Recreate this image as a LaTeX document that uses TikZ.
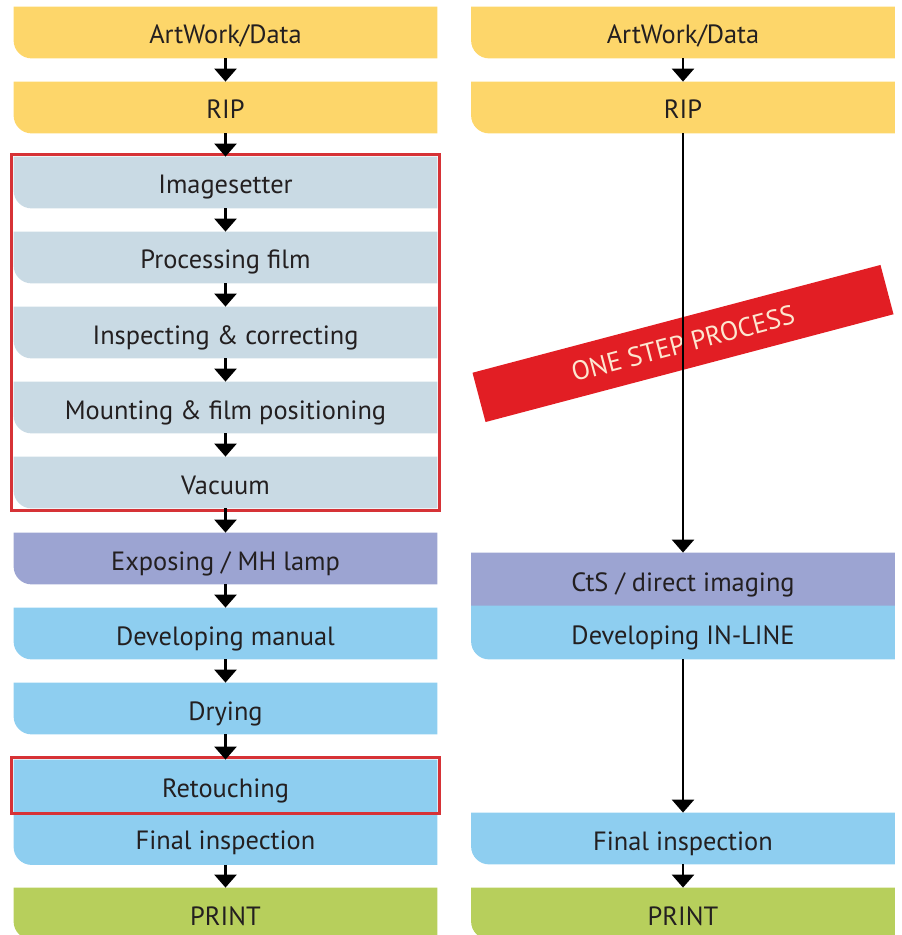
\documentclass[tikz,border=0pt]{standalone}
\usepackage{fontspec}
\setmainfont{PT Sans}
\usetikzlibrary{arrows.meta,backgrounds,fit}

\definecolor{artcol}{RGB}{253,214,106}
\definecolor{filmcol}{RGB}{201,218,228}
\definecolor{expcol}{RGB}{156,164,210}
\definecolor{devcol}{RGB}{142,206,240}
\definecolor{printcol}{RGB}{183,207,92}
\definecolor{bannercol}{RGB}{226,30,36}
\definecolor{framecol}{RGB}{214,50,54}
\definecolor{textcol}{RGB}{35,31,32}
\definecolor{creamcol}{RGB}{253,230,208}

\begin{document}
\begin{tikzpicture}[x=0.5pt, y=-0.5pt,
    stepbox/.style={minimum width=211.5pt, minimum height=25.5pt, inner sep=0pt,
      text height=11.5pt, text depth=0pt,
      text=textcol, font=\fontsize{13.2}{15}\selectfont},
    flow/.style={line width=1.3pt, -{Triangle[width=11pt,length=6.5pt]}},
    redframe/.style={draw=framecol, line width=1.5pt, inner sep=1pt},
    banner/.style={fill=bannercol, text=creamcol, minimum width=211pt,
      minimum height=25.5pt, font=\fontsize{13.4}{16}\selectfont}]
   \useasboundingbox (0,0) rectangle (901,935);
   % left column: conventional plate making
   \node[stepbox] (artL) at (225.5,32.5)  {ArtWork/Data};
   \node[stepbox] (ripL) at (225.5,107.5) {RIP};
   \node[stepbox] (img)  at (225.5,182.5) {Imagesetter};
   \node[stepbox] (proc) at (225.5,257.5) {Processing film};
   \node[stepbox] (insp) at (225.5,332.5) {Inspecting \& correcting};
   \node[stepbox] (mount) at (225.5,407.5) {Mounting \& film positioning};
   \node[stepbox] (vac)  at (225.5,482.5) {Vacuum};
   \node[stepbox] (expo) at (225.5,558.5) {Exposing / MH lamp};
   \node[stepbox] (devL) at (225.5,633.5) {Developing manual};
   \node[stepbox] (dry)  at (225.5,708.5) {Drying};
   \node[stepbox] (ret)  at (225.5,785.5) {Retouching};
   \node[stepbox, minimum height=26.5pt] (finL) at (225.5,838) {Final inspection};
   \node[stepbox] (prL)  at (225.5,913.5) {PRINT};
   % right column: direct imaging
   \node[stepbox] (artR) at (683,32.5)  {ArtWork/Data};
   \node[stepbox] (ripR) at (683,107.5) {RIP};
   \node[stepbox, minimum height=26.5pt] (cts)  at (683,579.5) {CtS / direct imaging};
   \node[stepbox, minimum height=26.5pt] (devR) at (683,632.5) {Developing IN-LINE};
   \node[stepbox] (finR) at (683,838.5) {Final inspection};
   \node[stepbox] (prR)  at (683,913.5) {PRINT};

   \begin{scope}[on background layer]
     \foreach \n/\c/\r in {artL/artcol/9, ripL/artcol/9, img/filmcol/9, proc/filmcol/9,
         insp/filmcol/9, mount/filmcol/9, vac/filmcol/9, expo/expcol/9, devL/devcol/9,
         dry/devcol/9, ret/devcol/0.01, finL/devcol/9, prL/printcol/9,
         artR/artcol/9, ripR/artcol/9, cts/expcol/0.01, devR/devcol/9,
         finR/devcol/9, prR/printcol/9}
       \fill[\c] (\n.north west) -- (\n.north east) -- (\n.south east)
         -- ([xshift=\r pt]\n.south west) arc[start angle=270, end angle=180, radius=\r pt]
         -- cycle;
   \end{scope}

   \node[redframe, fit=(img)(vac)] (filmstage) {};
   \node[redframe, fit=(ret)] (retframe) {};

   \node[banner, rotate=14.8] (onestep) at (683,343.5) {ONE STEP PROCESS};

   \draw[flow] (artL) to (ripL);
   \draw[flow] (ripL) to (img);
   \draw[flow] (img) to (proc);
   \draw[flow] (proc) to (insp);
   \draw[flow] (insp) to (mount);
   \draw[flow] (mount) to (vac);
   \draw[flow] (vac) to (expo);
   \draw[flow] (expo) to (devL);
   \draw[flow] (devL) to (dry);
   \draw[flow] (dry) to (ret);
   \draw[flow] (finL) to (prL);

   \draw[flow] (artR) to (ripR);
   \draw[flow] (ripR) to (cts);
   \draw[flow] (devR) to (finR);
   \draw[flow] (finR) to (prR);
\end{tikzpicture}
\end{document}
